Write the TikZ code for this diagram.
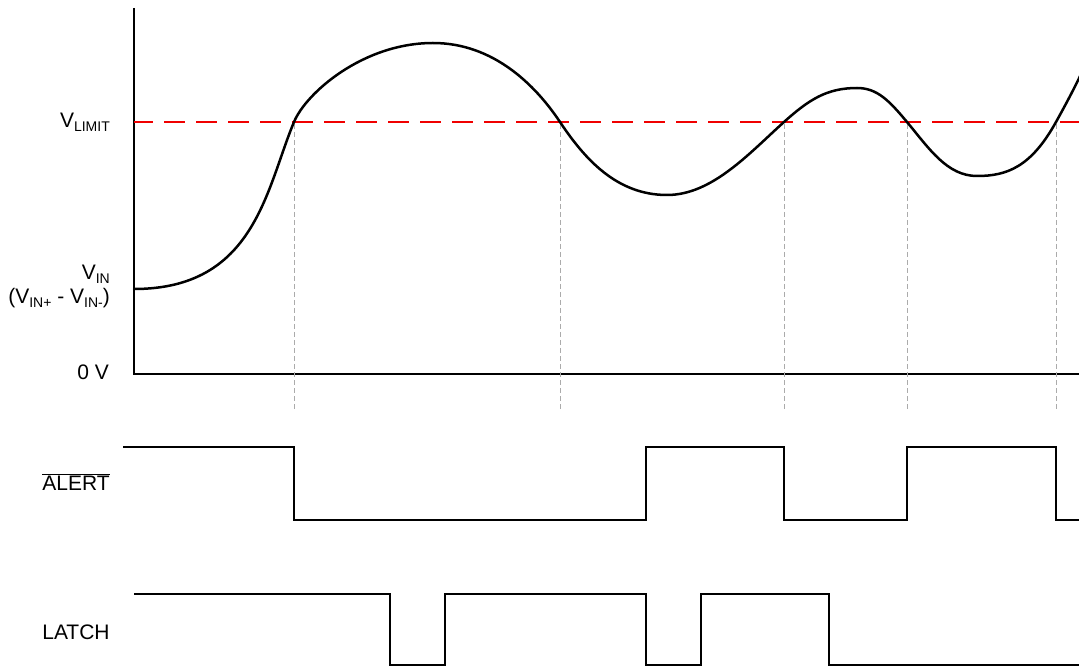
\documentclass[tikz,border=0pt]{standalone}
\usepackage{fontspec}
\setmainfont{Liberation Sans}
\usetikzlibrary{positioning}
\definecolor{tdred}{HTML}{F00000}
\definecolor{tdgrey}{HTML}{ABABAB}
\newcommand{\lowtxt}[1]{\raisebox{-0.35ex}{\fontsize{14}{14}\selectfont #1}}
\tikzset{
  axis/.style={line width=2.2pt,black},
  wave/.style={line width=2.5pt,black,line join=round,line cap=round},
  sig/.style={line width=2.4pt,black,line join=miter},
  limit/.style={line width=2.4pt,tdred,dash pattern=on 21pt off 11pt,dash phase=2pt},
  guide/.style={line width=0.9pt,tdgrey,dash pattern=on 5pt off 3pt},
  lab/.style={font=\fontsize{21}{24}\selectfont,inner sep=0pt},
}

\begin{document}
\begin{tikzpicture}[x=1pt,y=-1pt]
  \useasboundingbox (0,0) rectangle (1079,668);
  % axes
  \coordinate (top) at (134,8);
  \coordinate (orig) at (134,374);
  \coordinate (xend) at (1080,374);
  \draw[axis] (top) -- (orig) -- (xend);
  % labels
  \node[lab,anchor=base east] (vlim) at (110,128) {V\lowtxt{LIMIT}};
  \node[lab,anchor=base east] (vin) at (110,280) {V\lowtxt{IN}};
  \node[lab,anchor=base east] (vdiff) at (110,304) {(V\lowtxt{IN+} - V\lowtxt{IN-})};
  \node[lab,anchor=base east] (zero) at (109,379) {0 V};
  \node[lab,anchor=base] (alert) at (76,490) {$\overline{\mbox{ALERT}}$};
  \node[lab,anchor=base] (latch) at (76,639) {LATCH};
  % guides at each crossing
  \foreach \t in {294,560,784,907,1056}
    {\draw[guide] (\t,124) -- (\t,410);}
  % threshold
  \coordinate (lima) at (134,122);
  \coordinate (limb) at (1080,122);
  \draw[limit] (lima) -- (limb);
  % input voltage
  \draw[wave] (134,289)
    .. controls (255,289) and (266,189) .. (294,122)
    .. controls (306,93) and (363,43) .. (433,43)
    .. controls (493,43) and (535,84.5) .. (560,122)
    .. controls (585,159.5) and (617,195) .. (667,195)
    .. controls (712,195) and (749,153.5) .. (784,122)
    .. controls (809,99.5) and (827,88) .. (857,88)
    .. controls (877,88) and (889,100.4) .. (907,122)
    .. controls (929,148.4) and (947,176) .. (977,176)
    .. controls (1007,176) and (1031,167) .. (1056,122)
    .. controls (1065,105.8) and (1074,89) .. (1082,72);
  % ALERT
  \draw[sig] (123,447) -- (294,447) -- (294,520) -- (646,520) -- (646,447)
    -- (784,447) -- (784,520) -- (907,520) -- (907,447) -- (1056,447)
    -- (1056,520) -- (1080,520);
  % LATCH
  \draw[sig] (134,594) -- (390,594) -- (390,665) -- (445,665) -- (445,594)
    -- (646,594) -- (646,665) -- (701,665) -- (701,594) -- (829,594)
    -- (829,665) -- (1080,665);
\end{tikzpicture}
\end{document}
